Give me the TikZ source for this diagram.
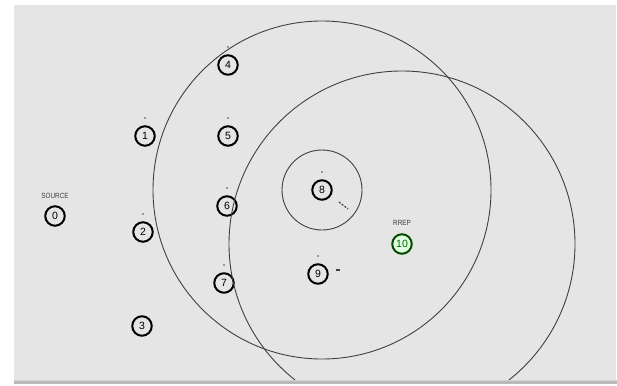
\documentclass[tikz,border=0pt]{standalone}
\usepackage{fontspec}
\setmainfont{Liberation Sans}
\begin{document}
\begin{tikzpicture}[x=1pt,y=-1pt,
  nd/.style={circle,draw=black,line width=2pt,minimum size=19.5pt,inner sep=0pt,font=\fontsize{10.5}{10.5}\selectfont},
  gnd/.style={nd,draw=black!70!green,fill=green!12,text=black!60!green},
  lbl/.style={font=\fontsize{7.5}{7.5}\selectfont,text=black!75,inner sep=0pt,xscale=0.85},
  txrange/.style={draw=black!75,line width=0.9pt},
  mk/.style={circle,fill=black!70,inner sep=0pt,minimum size=1.6pt}]
\useasboundingbox (0,0) rectangle (617,385);
\fill[white] (0,0) rectangle (617,385);
\fill[gray!20] (14,5) rectangle (616,380);
\fill[gray!35] (14,380) rectangle (617,381);
\fill[gray!55] (14,381) rectangle (617,384);
% nodes
\node[nd] (n0) at (55,216) {0};
\node[lbl] (src) at (55,196) {SOURCE};
\node[nd] (n1) at (145,136) {1};
\node[nd] (n2) at (143,232) {2};
\node[nd] (n3) at (142,326) {3};
\node[nd] (n4) at (228,65) {4};
\node[nd] (n5) at (228,136) {5};
\node[nd] (n6) at (227,206) {6};
\node[nd] (n7) at (224,283) {7};
\node[nd] (n8) at (322,190) {8};
\node[nd] (n9) at (318,274) {9};
\node[gnd] (n10) at (402,244) {10};
\node[lbl] (rrep) at (402,223) {RREP};
% markers above nodes
\foreach \n in {n1,n2,n4,n5,n6,n7,n8,n9}
  \node[mk] at ([yshift=18pt]\n.center) {};
% motion traces
\coordinate (t8a) at (339,202);
\coordinate (t8b) at (348,209);
\draw[black!75,line width=1.2pt,dash pattern=on 2pt off 1.5pt] (t8a) -- (t8b);
\coordinate (t9a) at (336,270);
\coordinate (t9b) at (340,270);
\draw[black!75,line width=1.2pt] (t9a) -- (t9b);
% transmission ranges
\begin{scope}
\clip (14,5) rectangle (616,379);
\draw[txrange] (n8.center) circle[radius=169];
\draw[txrange] (n8.center) circle[radius=40];
\draw[txrange] (n10.center) circle[radius=173];
\end{scope}
\end{tikzpicture}
\end{document}
